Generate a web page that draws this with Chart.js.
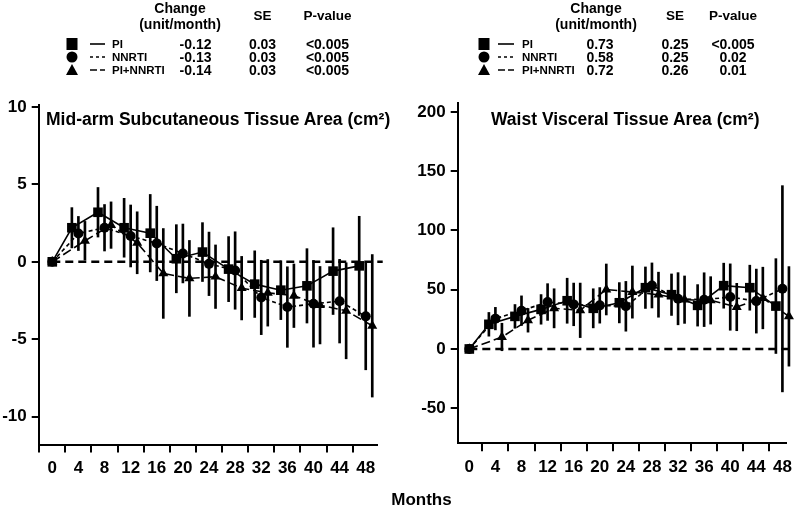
<!DOCTYPE html>
<html>
<head>
<meta charset="utf-8">
<script src="https://cdn.jsdelivr.net/npm/chart.js@4"></script>
<style>
  body { margin: 0; background: #fff; }
  #wrap { position: relative; width: 798px; height: 508px; overflow: hidden;
          font-family: "Liberation Sans", Arial, sans-serif; font-weight: bold; color: #000; }
  canvas { position: absolute; top: 0; }
  .t { position: absolute; white-space: nowrap; transform: translate(-50%, -50%); line-height: 1; }
  .l { position: absolute; white-space: nowrap; transform: translateY(-50%); line-height: 1; }
  svg { position: absolute; overflow: visible; }
</style>
</head>
<body>
<div id="wrap">
  <canvas id="arm" width="399" height="508" style="left:0"></canvas>
  <canvas id="waist" width="399" height="508" style="left:399px"></canvas>
</div>
<script>
// months at which each group was measured (groups are staggered by one month)
const piMonths = [0, 3, 7, 11, 15, 19, 23, 27, 31, 35, 39, 43, 47];
const nnrtiMonths = [0, 4, 8, 12, 16, 20, 24, 28, 32, 36, 40, 44, 48];
const comboMonths = [0, 5, 9, 13, 17, 21, 25, 29, 33, 37, 41, 45, 49];

const monthTicks = [0, 4, 8, 12, 16, 20, 24, 28, 32, 36, 40, 44, 48];
const armTicks = [-10, -5, 0, 5, 10];
const waistTicks = [-50, 0, 50, 100, 150, 200];

// mid-arm subcutaneous tissue area, change from baseline (cm2) and error
const armPI = [0, 2.2, 3.2, 2.2, 1.85, 0.2, 0.63, -0.47, -1.44, -1.83, -1.55, -0.6, -0.26];
const armPIErr = [0, 1.3, 1.6, 1.9, 2.5, 2.2, 1.9, 2.1, 2.15, 1.9, 2.4, 2.8, 3.2];
const armNNRTI = [0, 1.83, 2.2, 1.67, 1.19, 0.54, -0.13, -0.56, -2.3, -2.92, -2.71, -2.54, -3.52];
const armNNRTIErr = [0, 1.1, 1.5, 2.0, 2.4, 1.9, 2.05, 2.5, 2.4, 2.6, 2.8, 2.7, 3.45];
const armCombo = [0, 1.36, 2.37, 1.23, -0.75, -1.07, -0.96, -1.7, -2.0, -2.19, -2.8, -3.16, -4.13];
const armComboErr = [0, 1.25, 1.5, 2.0, 2.9, 2.45, 2.05, 2.05, 2.15, 2.05, 2.5, 3.1, 4.6];

// waist visceral tissue area, change from baseline (cm2) and error
const waistPI = [0, 20.8, 27.5, 33.4, 40.7, 34.3, 39, 51.7, 45.8, 36.8, 53.4, 51.7, 36.2];
const waistPIErr = [0, 10, 10, 12.5, 19, 16.5, 17, 17.5, 17.5, 17.5, 19, 19, 40];
const waistNNRTI = [0, 25.6, 32.3, 39.6, 37.6, 36.8, 36, 53.6, 42.4, 41.6, 43.8, 40.4, 50.8];
const waistNNRTIErr = [0, 9.5, 12.5, 15.5, 18, 15, 21, 19, 22, 22.7, 28, 27, 87];
const waistCombo = [0, 10.1, 24.2, 34.3, 32.6, 50.2, 48, 45.8, 41.6, 41, 35.4, 43, 27.5];
const waistComboErr = [0, 11.6, 10, 16.5, 23, 21.5, 22, 19, 20, 20, 20, 26, 42];

// legend tables
const groups = ['PI', 'NNRTI', 'PI+NNRTI'];
const armChange = ['-0.12', '-0.13', '-0.14'];
const armSE = ['0.03', '0.03', '0.03'];
const armP = ['<0.005', '<0.005', '<0.005'];
const waistChange = ['0.73', '0.58', '0.72'];
const waistSE = ['0.25', '0.25', '0.26'];
const waistP = ['<0.005', '0.02', '0.01'];

const FONT = '"Liberation Sans", Arial, sans-serif';

function points(months, values) {
  return months.map((m, i) => ({ x: m, y: values[i] }));
}
function errorBars(months, values, errs) {
  return months.map((m, i) => ({ x: m, y: [values[i] - errs[i], values[i] + errs[i]] }));
}

const styles = [
  { pointStyle: 'rect', radius: 6.8, dash: [] },
  { pointStyle: 'circle', radius: 5, dash: [4, 3] },
  { pointStyle: 'triangle', radius: 5.8, dash: [9, 4] },
];

function makePanel(id, p) {
  const datasets = [];
  p.series.forEach((s, k) => {
    datasets.push({
      type: 'line', data: points(s.months, s.values), order: 1, clip: false,
      borderColor: '#000', borderWidth: 1.6, borderDash: styles[k].dash,
      pointStyle: styles[k].pointStyle, pointRadius: styles[k].radius,
      pointBackgroundColor: '#000', pointBorderColor: '#000', pointBorderWidth: 0,
      tension: 0, fill: false,
    });
    datasets.push({
      type: 'bar', data: errorBars(s.months, s.values, s.errs), order: 2, clip: false,
      backgroundColor: '#000', borderWidth: 0, grouped: false,
      barThickness: 2, maxBarThickness: 2,
    });
  });
  // zero reference line
  datasets.push({
    type: 'line', data: [{ x: 0, y: 0 }, { x: p.zeroEnd, y: 0 }], order: 3, clip: false,
    borderColor: '#000', borderWidth: 2.5, borderDash: [8, 5], pointRadius: 0,
  });

  const axisFont = { family: FONT, size: 17, weight: 'bold' };
  new Chart(document.getElementById(id), {
    type: 'line',
    data: { datasets },
    options: {
      responsive: false, animation: false, events: [],
      layout: { padding: { top: p.top, right: p.right, bottom: 0, left: 0 } },
      plugins: { legend: { display: false }, tooltip: { enabled: false }, title: { display: false } },
      scales: {
        x: {
          type: 'linear', min: p.xmin, max: p.xmax, offset: false,
          afterFit: s => { s.height = 508 - p.bottom; },
          afterBuildTicks: s => { s.ticks = monthTicks.map(v => ({ value: v })); },
          ticks: { font: axisFont, color: '#000', padding: 6, autoSkip: false, maxRotation: 0, minRotation: 0 },
          grid: { drawOnChartArea: false, tickLength: 8, lineWidth: 2, color: '#000' },
          border: { display: true, color: '#000', width: 2 },
        },
        y: {
          type: 'linear', min: p.ymin, max: p.ymax,
          afterFit: s => { s.width = p.axisX; },
          afterBuildTicks: s => { s.ticks = p.yTicks.map(v => ({ value: v })); },
          ticks: { font: axisFont, color: '#000', padding: 5 },
          grid: { drawOnChartArea: false, tickLength: 7, lineWidth: 2, color: '#000' },
          border: { display: true, color: '#000', width: 2 },
        },
      },
    },
  });
}

makePanel('arm', {
  series: [
    { months: piMonths, values: armPI, errs: armPIErr },
    { months: nnrtiMonths, values: armNNRTI, errs: armNNRTIErr },
    { months: comboMonths, values: armCombo, errs: armComboErr },
  ],
  yTicks: armTicks, ymin: -11.8, ymax: 10.1, xmin: -2.08, xmax: 49.68, zeroEnd: 50.6,
  top: 105.4, bottom: 444.6, axisX: 38.7, right: 399 - 376.7,
});
makePanel('waist', {
  series: [
    { months: piMonths, values: waistPI, errs: waistPIErr },
    { months: nnrtiMonths, values: waistNNRTI, errs: waistNNRTIErr },
    { months: comboMonths, values: waistCombo, errs: waistComboErr },
  ],
  yTicks: waistTicks, ymin: -79.6, ymax: 207.3, xmin: -1.78, xmax: 48.6, zeroEnd: 49.6,
  top: 103.3, bottom: 443.3, axisX: 58.7, right: 11.3,
});

// ---- text: titles, axis title, legend tables ----
const wrap = document.getElementById('wrap');
function text(str, x, y, size, cls) {
  const d = document.createElement('div');
  d.className = cls || 't';
  d.style.left = x + 'px';
  d.style.top = y + 'px';
  d.style.fontSize = size + 'px';
  d.textContent = str;
  wrap.appendChild(d);
  return d;
}
function svg(x, y, w, h, inner) {
  const s = document.createElementNS('http://www.w3.org/2000/svg', 'svg');
  s.setAttribute('width', w);
  s.setAttribute('height', h);
  s.style.left = x + 'px';
  s.style.top = y + 'px';
  s.innerHTML = inner;
  wrap.appendChild(s);
}

text('Mid-arm Subcutaneous Tissue Area (cm\u00b2)', 46, 119.5, 17.5, 'l');
text('Waist Visceral Tissue Area (cm\u00b2)', 491, 119.5, 17.5, 'l');
text('Months', 421.5, 499, 17);

const rowY = [44, 57, 70];
const sample = ['', '3,3', '7,3'];
function table(pos, change, se, pv) {
  text('Change', pos.head, 8, 14);
  text('(unit/month)', pos.head, 24, 14);
  text('SE', pos.se, 16, 13.5);
  text('P-value', pos.p, 16, 13.5);
  groups.forEach((g, i) => {
    const y = rowY[i];
    const mx = pos.marker;
    if (i === 0) svg(mx - 6, y - 6, 12, 12, '<rect x="0.5" y="0" width="11" height="12" fill="#000"/>');
    if (i === 1) svg(mx - 6, y - 6, 12, 12, '<circle cx="6" cy="6" r="5.5" fill="#000"/>');
    if (i === 2) svg(mx - 6, y - 6, 12, 12, '<polygon points="6,0 12,11 0,11" fill="#000"/>');
    svg(pos.line[0], y - 2, pos.line[1] - pos.line[0], 4,
      '<line x1="0" y1="2" x2="' + (pos.line[1] - pos.line[0]) + '" y2="2" stroke="#000" stroke-width="1.6"' +
      (sample[i] ? ' stroke-dasharray="' + sample[i] + '"' : '') + '/>');
    text(g, pos.label, y + 1, 11.5, 'l');
    text(change[i], pos.change, y, 14);
    text(se[i], pos.se, y, 14);
    text(pv[i], pos.p, y, 14);
  });
}
table({ head: 180, marker: 72, line: [90, 105], label: 112, change: 195.5, se: 262.5, p: 327.5 },
  armChange, armSE, armP);
table({ head: 596, marker: 484, line: [498, 514], label: 522, change: 600, se: 675, p: 733 },
  waistChange, waistSE, waistP);
</script>
</body>
</html>
